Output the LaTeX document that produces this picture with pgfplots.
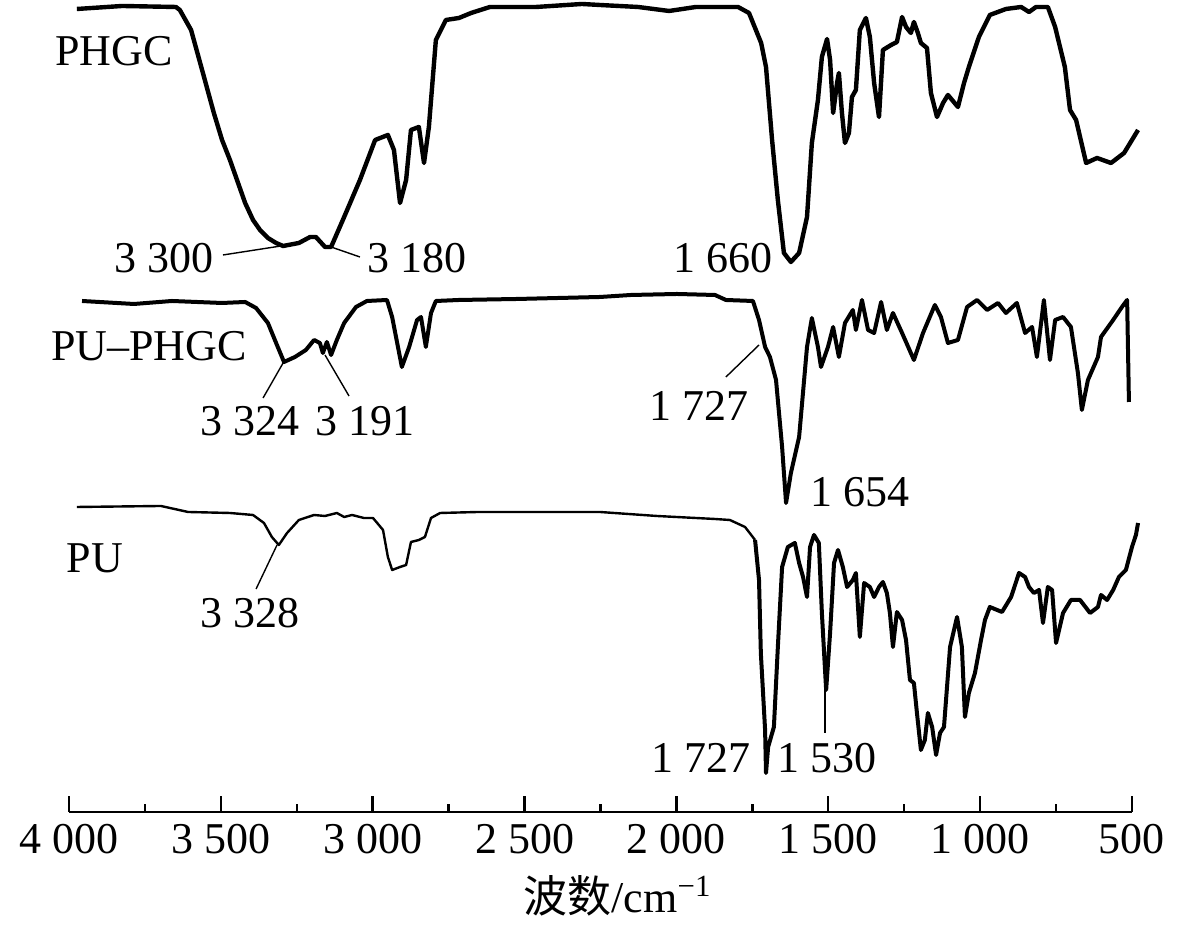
\documentclass[border=0pt]{standalone}
\usepackage{fontspec}
\setmainfont{Liberation Serif}
\newfontfamily\cjk{Noto Sans CJK SC}
\usepackage{pgfplots}
\pgfplotsset{compat=1.18}
\tikzset{lab/.style={font=\fontsize{11}{13}\selectfont, inner sep=0pt, anchor=center},
  ann/.style={line width=0.35pt, black}}
\pgfplotstableread{
w y
3974 -9
3825 -6
3648 -7
3635 -10
3598 -30
3559 -73
3523 -113
3496 -140
3470 -160
3420 -203
3394 -220
3371 -230
3345 -238
3318 -243
3295 -246
3243 -243
3206 -237
3187 -237
3157 -247
3137 -247
3094 -217
3042 -180
2992 -140
2950 -135
2930 -150
2910 -203
2890 -180
2874 -130
2848 -127
2831 -163
2815 -127
2792 -40
2759 -20
2716 -18
2676 -13
2614 -7
2462 -7
2311 -4
2252 -5
2126 -7
2024 -11
1936 -7
1797 -7
1761 -13
1721 -43
1705 -67
1685 -140
1666 -200
1646 -253
1623 -262
1596 -253
1570 -217
1554 -143
1534 -100
1521 -57
1504 -39
1494 -60
1484 -113
1471 -83
1465 -73
1455 -113
1445 -143
1432 -133
1422 -97
1409 -90
1396 -30
1376 -18
1363 -37
1349 -83
1333 -117
1320 -50
1293 -45
1274 -42
1257 -17
1244 -27
1228 -33
1218 -22
1205 -33
1195 -43
1175 -48
1162 -93
1142 -117
1122 -103
1106 -95
1073 -107
1053 -83
1037 -67
1004 -37
968 -15
915 -9
865 -7
839 -12
816 -7
777 -7
753 -27
721 -67
704 -110
684 -120
651 -163
615 -158
569 -163
526 -153
480 -130
}\phgc
\pgfplotstableread{
w y
3957 -301
3786 -304
3661 -301
3496 -303
3420 -302
3384 -308
3345 -323
3318 -343
3292 -362
3256 -357
3220 -350
3193 -340
3174 -343
3164 -353
3151 -342
3137 -355
3118 -340
3094 -323
3055 -307
3019 -301
2953 -300
2936 -317
2904 -367
2880 -347
2854 -320
2841 -317
2825 -347
2808 -313
2792 -301
2716 -300
2525 -299
2252 -297
2150 -295
1998 -294
1873 -295
1837 -300
1748 -301
1728 -320
1708 -347
1692 -357
1672 -380
1652 -447
1639 -503
1623 -473
1596 -437
1570 -347
1554 -318
1534 -347
1524 -367
1501 -347
1484 -327
1465 -357
1445 -323
1419 -310
1409 -330
1389 -300
1369 -330
1349 -333
1326 -302
1307 -330
1287 -313
1257 -333
1218 -360
1188 -333
1149 -305
1129 -317
1106 -343
1073 -340
1043 -307
1010 -300
977 -310
941 -303
915 -313
879 -303
852 -333
829 -327
813 -357
790 -300
770 -360
753 -320
727 -317
701 -327
678 -373
665 -410
645 -380
612 -357
602 -337
562 -320
533 -307
516 -300
510 -402
}\puphgc
\pgfplotstableread{
w y
3974 -507
3697 -506
3608 -512
3470 -513
3394 -515
3358 -523
3332 -537
3309 -545
3282 -533
3243 -520
3193 -515
3157 -516
3118 -513
3094 -517
3068 -515
3029 -518
2999 -518
2966 -530
2950 -557
2936 -570
2910 -567
2890 -565
2874 -542
2848 -540
2828 -537
2808 -518
2778 -513
2653 -512
2252 -512
2064 -516
1873 -519
1824 -520
1774 -527
1741 -540
}\puleft
\pgfplotstableread{
w y
1741 -540
1728 -580
1722 -653
1708 -730
1705 -773
1698 -747
1679 -727
1666 -647
1652 -567
1633 -547
1610 -543
1596 -563
1583 -577
1570 -597
1560 -547
1547 -535
1531 -543
1521 -613
1507 -690
1494 -633
1481 -563
1468 -550
1452 -567
1438 -587
1419 -580
1409 -573
1396 -637
1382 -583
1363 -587
1349 -597
1333 -587
1320 -582
1307 -593
1297 -613
1287 -647
1274 -612
1257 -620
1244 -640
1231 -680
1218 -683
1208 -713
1195 -750
1182 -740
1172 -713
1158 -727
1145 -755
1132 -733
1119 -727
1099 -647
1076 -617
1060 -647
1050 -717
1037 -693
1017 -673
997 -640
984 -620
968 -607
928 -612
898 -597
872 -573
852 -577
839 -587
823 -593
806 -590
793 -623
777 -587
763 -590
750 -643
727 -613
701 -600
671 -600
638 -613
612 -607
602 -595
582 -600
562 -590
543 -577
520 -570
500 -547
487 -535
480 -523
}\puright
\begin{document}
\begin{tikzpicture}[font=\fontsize{11}{13}\selectfont]
\useasboundingbox (0,0) rectangle (300pt,232pt);
\begin{axis}[
  at={(17.25pt,29pt)}, anchor=south west,
  scale only axis, width=265.75pt, height=203pt,
  xmin=500, xmax=4000, ymin=-812, ymax=0,
  x dir=reverse,
  axis y line=none, axis x line=bottom,
  x axis line style={-, line width=0.7pt},
  xtick={4000,3500,3000,2500,2000,1500,1000,500},
  xticklabels={4\ 000,3\ 500,3\ 000,2\ 500,2\ 000,1\ 500,1\ 000,500},
  minor x tick num=1,
  tick align=inside,
  major tick length=4pt, minor tick length=2pt,
  every tick/.style={black, line width=0.6pt},
  tick label style={font=\fontsize{11}{13}\selectfont},
  xticklabel style={yshift=0.5pt},
  clip=false,
]
\addplot[black, line width=1.1pt, line join=round] table[x=w,y=y]{\phgc};
\addplot[black, line width=1.0pt, line join=round] table[x=w,y=y]{\puphgc};
\addplot[black, line width=0.6pt, line join=round] table[x=w,y=y]{\puleft};
\addplot[black, line width=1.0pt, line join=round] table[x=w,y=y]{\puright};

\node[lab] at (axis cs:3852,-51) {PHGC};
\node[lab] at (axis cs:3687,-258) {3 300};
\draw[ann] (axis cs:3493,-255) -- (axis cs:3302,-246);
\node[lab] at (axis cs:2854,-258) {3 180};
\draw[ann] (axis cs:3137,-247) -- (axis cs:3042,-257);
\node[lab] at (axis cs:1847,-258) {1 660};

\node[lab] at (axis cs:3737,-346) {PU–PHGC};
\node[lab] at (axis cs:3404,-421) {3 324};
\draw[ann] (axis cs:3361,-398) -- (axis cs:3295,-363);
\node[lab] at (axis cs:3025,-421) {3 191};
\draw[ann] (axis cs:3078,-396) -- (axis cs:3157,-355);
\node[lab] at (axis cs:1926,-406) {1 727};
\draw[ann] (axis cs:1837,-377) -- (axis cs:1728,-345);
\node[lab] at (axis cs:1396,-492) {1 654};

\node[lab] at (axis cs:3914,-558) {PU};
\node[lab] at (axis cs:3404,-613) {3 328};
\draw[ann] (axis cs:3384,-589) -- (axis cs:3315,-545);
\node[lab] at (axis cs:1919,-758) {1 727};
\node[lab] at (axis cs:1504,-758) {1 530};
\draw[ann] (axis cs:1511,-733) -- (axis cs:1511,-690);

\node[lab] at (axis cs:2192,-896) {{\cjk 波数}/cm\textsuperscript{−1}};
\end{axis}
\end{tikzpicture}
\end{document}
